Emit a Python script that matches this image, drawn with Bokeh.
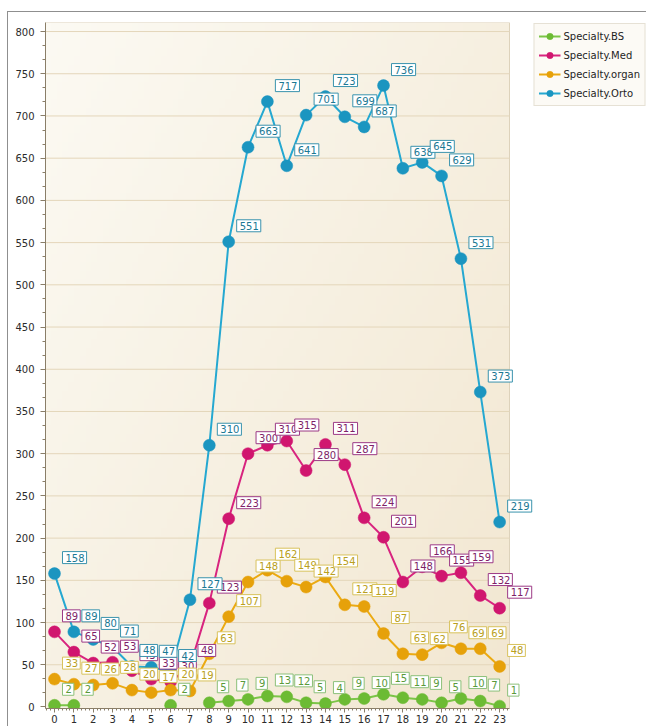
import numpy as np
from bokeh.plotting import figure
from bokeh.models import (ColumnDataSource, Label, Legend, LegendItem, Range1d,
                          SingleIntervalTicker)
from bokeh.embed import file_html
from bokeh.resources import INLINE

nan = float("nan")

# hourly counts per specialty
hours = list(range(24))
bs = [2, 2, nan, nan, nan, nan, 2, nan, 5, 7, 9, 13, 12, 5, 4, 9, 10, 15, 11, 9, 5, 10, 7, 1]
med = [89, 65, 52, 53, 43, 33, 30, 48, 123, 223, 300, 310, 315, 280, 311, 287, 224, 201,
       148, 166, 155, 159, 132, 117]
organ = [33, 27, 26, 28, 20, 17, 20, 19, 63, 107, 148, 162, 149, 142, 154, 121, 119, 87,
         63, 62, 76, 69, 69, 48]
orto = [158, 89, 80, 71, 48, 47, 42, 127, 310, 551, 663, 717, 641, 701, 723, 699, 687, 736,
        638, 645, 629, 531, 373, 219]

series_names = ["Specialty.BS", "Specialty.Med", "Specialty.organ", "Specialty.Orto"]
series_values = [bs, med, organ, orto]

# style per series: line, marker, label text, label border
styles = [
    dict(line="#7cc548", dot="#6cbb34", text="#5a9a3a", border="#8cc07a"),
    dict(line="#d8247f", dot="#d0166f", text="#7e1f68", border="#9c3a86"),
    dict(line="#ebaa12", dot="#e6a10a", text="#b9a020", border="#d8c25c"),
    dict(line="#25a8d1", dot="#1b95c0", text="#1b7893", border="#3a93ad"),
]

# plotting area in data units; the frame reaches further right so that
# value boxes near the last hour and the legend have room
X0, X1 = -0.465, 23.51
Y0, Y1 = -1.8, 810.7
PX_PER_HOUR = 464 / (X1 - X0)
FRAME_W = 601
XR = X0 + FRAME_W / PX_PER_HOUR

p = figure(frame_width=FRAME_W, frame_height=686, output_backend="svg",
           toolbar_location=None, x_range=Range1d(X0, XR), y_range=Range1d(Y0, Y1),
           min_border_left=37, min_border_top=10, min_border_bottom=18,
           min_border_right=0)
p.styles = {"margin-top": "11px", "margin-left": "7px",
            "border-top": "1px solid #8f8f8f", "border-left": "1px solid #8f8f8f"}

p.background_fill_color = "white"
p.border_fill_color = "white"
p.outline_line_color = None

# soft diagonal shading of the plotting area
ny, nx = 80, 80
gx, gy = np.meshgrid(np.linspace(0, 1, nx), np.linspace(0, 1, ny))
t = np.clip(0.55 * gx + 0.45 * (1 - gy), 0, 1)[..., None]
light = np.array([252, 250, 243])
dark = np.array([242, 231, 209])
rgb = light * (1 - t) + dark * t
img = np.empty((ny, nx), dtype=np.uint32)
view = img.view(dtype=np.uint8).reshape((ny, nx, 4))
view[..., :3] = rgb.astype(np.uint8)
view[..., 3] = 255
p.image_rgba(image=[img], x=X0, y=Y0, dw=X1 - X0, dh=Y1 - Y0, level="image")
p.quad(left=X0, right=X1, bottom=Y0, top=Y1, fill_color=None,
       line_color="#ddd2bb", line_width=1, level="underlay")

# horizontal grid lines limited to the plotting area
grid_vals = list(range(50, 801, 50))
p.segment(x0=[X0] * len(grid_vals), x1=[X1] * len(grid_vals), y0=grid_vals, y1=grid_vals,
          line_color="#e4d6ba", line_width=1, level="underlay")
p.xgrid.grid_line_color = None
p.ygrid.grid_line_color = None

# axes
axis_color = "#8a7e68"
for ax in (p.xaxis[0], p.yaxis[0]):
    ax.axis_line_color = axis_color
    ax.major_tick_line_color = axis_color
    ax.minor_tick_line_color = axis_color
    ax.major_label_text_font = "DejaVu Sans"
    ax.major_label_text_font_size = "10px"
    ax.major_label_text_color = "#2b2b2b"
    ax.major_tick_in = 0
    ax.minor_tick_in = 0

p.xaxis.ticker = SingleIntervalTicker(interval=1, num_minor_ticks=5)
p.xaxis.bounds = (X0, X1)
p.xaxis.major_tick_out = 4
p.xaxis.minor_tick_out = 2
p.xaxis.major_label_standoff = 2

p.yaxis.ticker = SingleIntervalTicker(interval=50, num_minor_ticks=3)
p.yaxis.major_tick_out = 5
p.yaxis.minor_tick_out = 3
p.yaxis.major_label_standoff = 6

legend_items = []
for name, vals, st in zip(series_names, series_values, styles):
    src = ColumnDataSource(dict(x=hours, y=vals))
    r_line = p.line("x", "y", source=src, line_color=st["line"], line_width=2)
    pts = [(h, v) for h, v in zip(hours, vals) if not np.isnan(v)]
    psrc = ColumnDataSource(dict(x=[h for h, _ in pts], y=[v for _, v in pts]))
    r_dot = p.scatter("x", "y", source=psrc, size=12, fill_color=st["dot"],
                      line_color=st["dot"], line_width=0.5)
    legend_items.append(LegendItem(label=name, renderers=[r_line, r_dot]))

# value boxes next to each marker, above all lines and markers
for vals, st in zip(series_values, styles):
    for h, v in zip(hours, vals):
        if np.isnan(v):
            continue
        p.add_layout(Label(x=h, y=v, text=str(int(v)), x_offset=8, y_offset=10,
                           text_align="left", text_baseline="bottom",
                           text_font="DejaVu Sans", text_font_size="10px",
                           text_color=st["text"], background_fill_color="white",
                           border_line_color=st["border"], border_line_width=1,
                           padding=(3, 2, 2, 2)))

legend = Legend(items=legend_items, location="top_right", margin=1, padding=4,
                spacing=3, glyph_width=22, glyph_height=16, label_height=16,
                label_standoff=3, label_text_font="DejaVu Sans",
                label_text_font_size="10px", label_text_color="#1e1e1e",
                background_fill_color="#fcfaf5", background_fill_alpha=1,
                border_line_color="#cfc7b6")
p.add_layout(legend)

open("out.html", "w").write(file_html(p, INLINE))
